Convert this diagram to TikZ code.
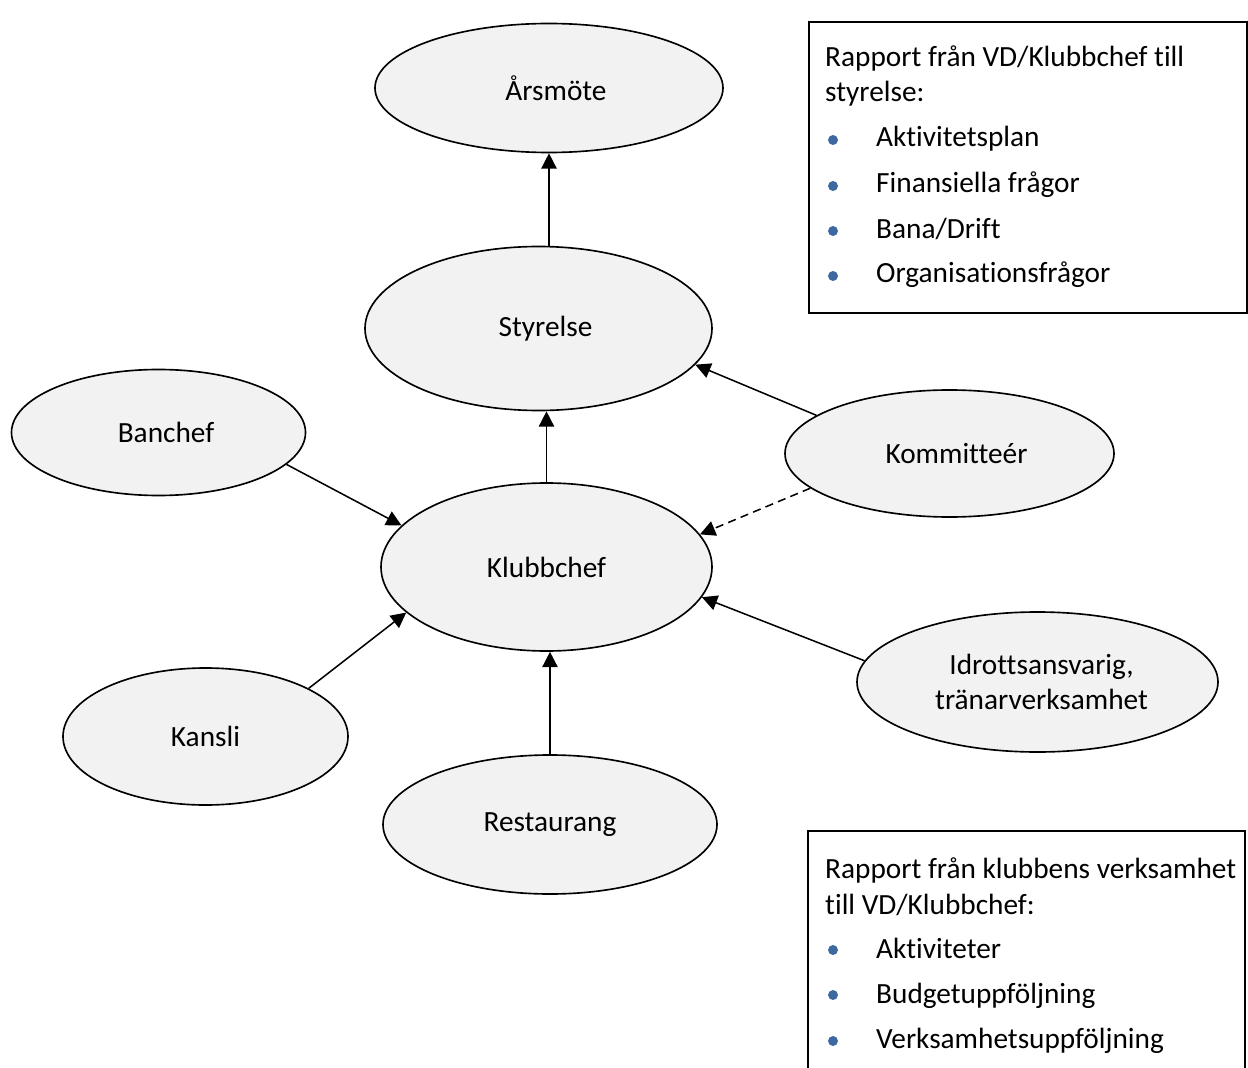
\documentclass[tikz,border=0pt]{standalone}
\usepackage{fontspec}
\setmainfont{Carlito}[Ligatures=NoCommon]
\usetikzlibrary{arrows.meta,shapes.geometric}
\definecolor{ellfill}{RGB}{242,242,242}
\definecolor{bulletblue}{RGB}{62,104,160}
\newcommand\pushr[1]{\hspace*{#1}}
\tikzset{
  oval/.style={ellipse, draw=black, line width=1.4pt, fill=ellfill, inner sep=0pt, align=center,
     font=\fontsize{25}{30}\selectfont},
  conn/.style={line width=1.3pt, -{Triangle[length=13pt,width=13pt]}},
  dconn/.style={conn, dash pattern=on 7pt off 4.5pt},
  boxline/.style={anchor=base west, inner sep=0pt, font=\fontsize{25}{30}\selectfont},
  bul/.style={circle, fill=bulletblue, inner sep=0pt, minimum size=8.5pt},
  frame/.style={draw=black, line width=1.5pt}
}
\begin{document}
\begin{tikzpicture}[x=0.03cm, y=-0.03cm]
\useasboundingbox (0,0) rectangle (1248,1068);
% ellipses
\node[oval, minimum width=348*0.03cm, minimum height=129*0.03cm] (ars) at (549,88) {\pushr{0.42cm}Årsmöte};
\node[oval, minimum width=347*0.03cm, minimum height=164*0.03cm] (sty) at (538.5,328.5) {\pushr{0.42cm}Styrelse};
\node[oval, minimum width=294*0.03cm, minimum height=126*0.03cm] (ban) at (158.5,432.5) {\pushr{0.45cm}Banchef};
\node[oval, minimum width=329*0.03cm, minimum height=127*0.03cm] (kom) at (949.5,453.5) {\pushr{0.42cm}Kommitteér};
\node[oval, minimum width=331*0.03cm, minimum height=168*0.03cm] (klu) at (546.5,567) {Klubbchef};
\node[oval, minimum width=361*0.03cm, minimum height=140*0.03cm] (idr) at (1037.5,682) {\pushr{0.24cm}Idrottsansvarig,\\\pushr{0.24cm}tränarverksamhet};
\node[oval, minimum width=285*0.03cm, minimum height=137*0.03cm] (kan) at (205.5,736.5) {Kansli};
\node[oval, minimum width=334*0.03cm, minimum height=139*0.03cm] (res) at (550,824.5) {Restaurang};
% connectors
\draw[conn] (ars.south |- sty.north) -- (ars.south);
\draw[conn] (klu.north) -- (klu.north |- sty.south);
\draw[conn] (kom.164) -- (sty.-13.7);
\draw[dconn] (kom.194.6) -- (klu.12.4);
\draw[conn] (ban.-14.6) -- (klu.164.7);
\draw[conn] (kan.25.6) -- (klu.198.8);
\draw[conn] (idr.173.4) -- (klu.-11.8);
\draw[conn] (res.north) -- (res.north |- klu.south);
% report box 1
\node[frame, minimum width=438*0.03cm, minimum height=291*0.03cm, anchor=north west] (box1) at (808,21) {};
\node[boxline] (b1l1) at (825,67) {Rapport från VD/Klubbchef till};
\node[boxline] (b1l2) at (825,102) {styrelse:};
\node[bul] (b1d1) at (833,140) {};
\node[boxline] (b1t1) at (876,147) {Aktivitetsplan};
\node[bul] (b1d2) at (833,186) {};
\node[boxline] (b1t2) at (876,193) {Finansiella frågor};
\node[bul] (b1d3) at (833,231) {};
\node[boxline] (b1t3) at (876,238) {Bana/Drift};
\node[bul] (b1d4) at (833,276) {};
\node[boxline] (b1t4) at (876,283) {Organisationsfrågor};
% report box 2 (cut off at the bottom)
\coordinate (b2bl) at (808,1068);
\coordinate (b2tr) at (1245,831);
\coordinate (b2br) at (1245,1068);
\draw[frame] (b2bl) |- (b2tr) -- (b2br);
\node[boxline] (b2l1) at (825,878) {Rapport från klubbens verksamhet};
\node[boxline] (b2l2) at (825,914) {till VD/Klubbchef:};
\node[bul] (b2d1) at (833,950) {};
\node[boxline] (b2t1) at (876,958) {Aktiviteter};
\node[bul] (b2d2) at (833,995) {};
\node[boxline] (b2t2) at (876,1003) {Budgetuppföljning};
\node[bul] (b2d3) at (833,1041) {};
\node[boxline] (b2t3) at (876,1048) {Verksamhetsuppföljning};
\end{tikzpicture}
\end{document}
